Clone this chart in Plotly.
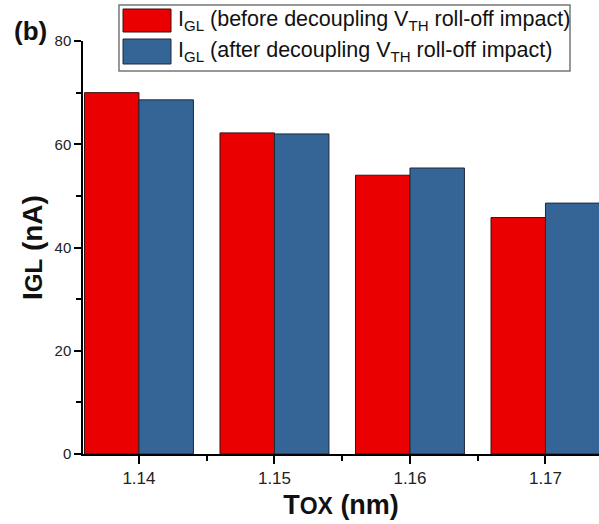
import plotly.graph_objects as go

tox = [1.14, 1.15, 1.16, 1.17]
tick_labels = ["1.14", "1.15", "1.16", "1.17"]
igl_before = [70.0, 62.2, 54.0, 45.8]
igl_after = [68.6, 62.0, 55.4, 48.6]
series_names = [
    "I<sub>GL</sub> (before decoupling V<sub>TH</sub> roll-off impact)",
    "I<sub>GL</sub> (after decoupling V<sub>TH</sub> roll-off impact)",
]
series_colors = ["#EA0000", "#346596"]
edge_colors = ["#3a1010", "#1c2a3a"]

W, H = 599, 524
ml, mr, mt, mb = 83, 0, 41, 70
pw = W - ml - mr
ph = H - mt - mb


def px(x):
    return (x - ml) / pw


def py(y):
    return (H - mb - y) / ph


fig = go.Figure()
for vals, name, col, ec in zip([igl_before, igl_after], series_names,
                               series_colors, edge_colors):
    fig.add_trace(go.Bar(
        x=tox, y=vals, name=name, showlegend=False,
        marker=dict(color=col, line=dict(color=ec, width=1)),
    ))

shapes = [dict(type="rect", xref="paper", yref="paper",
               x0=px(119), x1=px(570), y0=py(5), y1=py(71),
               line=dict(color="#777", width=1.5), fillcolor="white",
               layer="above")]
annotations = []
rows = [(9, 32, 21), (39, 64, 52)]
for (y0, y1, yc), name, col, ec in zip(rows, series_names, series_colors,
                                       edge_colors):
    shapes.append(dict(type="rect", xref="paper", yref="paper",
                       x0=px(123), x1=px(171), y0=py(y0), y1=py(y1),
                       line=dict(color=ec, width=1), fillcolor=col,
                       layer="above"))
    annotations.append(dict(
        text=name, xref="paper", yref="paper", x=px(176), y=py(yc),
        xanchor="left", yanchor="middle", showarrow=False,
        font=dict(size=21.5, color="#111"),
    ))
annotations.append(dict(
    text="<b>(b)</b>", xref="paper", yref="paper",
    x=px(30), y=py(31), xanchor="center", yanchor="middle",
    showarrow=False, font=dict(size=26, color="#111"),
))

fig.update_layout(
    width=W, height=H,
    margin=dict(l=ml, r=mr, t=mt, b=mb),
    paper_bgcolor="white", plot_bgcolor="white",
    barmode="group", bargap=0.196, bargroupgap=0,
    showlegend=False,
    font=dict(family="Arial, Liberation Sans, sans-serif", color="#222"),
    xaxis=dict(
        range=[1.13587, 1.17395],
        tickvals=tox, ticktext=tick_labels,
        showline=True, linecolor="black", linewidth=1.5,
        ticks="outside", ticklen=8, tickcolor="black", tickwidth=1.5,
        minor=dict(ticks="outside", ticklen=5, tickcolor="black",
                   tickwidth=1.5, tickvals=[1.145, 1.155, 1.165]),
        showgrid=False, zeroline=False,
        tickfont=dict(size=17, color="#222"),
        title=dict(
            text="<b>T<span style='font-size:23px'>OX</span> (nm)</b>",
            font=dict(size=27, color="#111"), standoff=8,
        ),
    ),
    yaxis=dict(
        range=[0, 80], dtick=20,
        showline=True, linecolor="black", linewidth=1.5,
        ticks="outside", ticklen=7, tickcolor="black", tickwidth=1.5,
        minor=dict(ticks="outside", ticklen=5, tickcolor="black",
                   tickwidth=1.5, dtick=10),
        showgrid=False, zeroline=False,
        tickfont=dict(size=15, color="#222"),
        title=dict(
            text="<b>I<span style='font-size:24px'>GL</span> (nA)</b>",
            font=dict(size=28, color="#111"), standoff=4,
        ),
    ),
    shapes=shapes,
    annotations=annotations,
)

fig.write_html("out.html")
